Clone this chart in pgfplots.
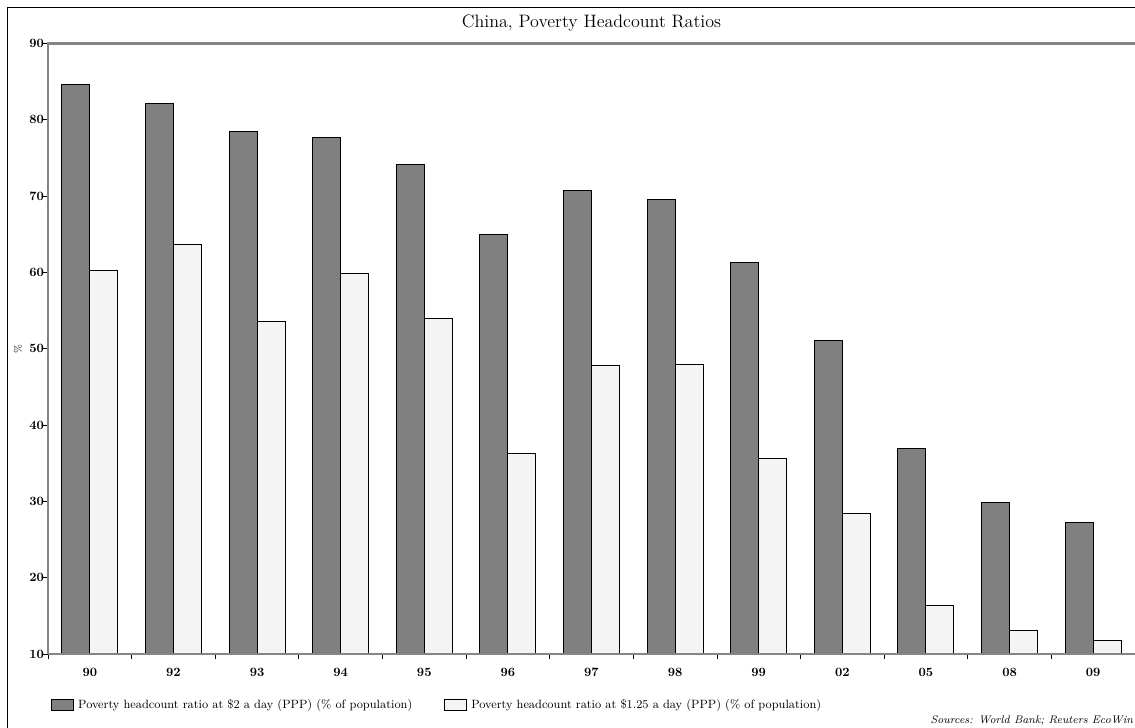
\documentclass[border=0pt]{standalone}
\usepackage{pgfplots}
\pgfplotsset{compat=1.18}
\definecolor{darkbar}{HTML}{808080}
\definecolor{lightbar}{HTML}{F4F4F4}
\definecolor{axisgray}{HTML}{858585}
\begin{document}
\begin{tikzpicture}
\path[use as bounding box] (0,0) rectangle (851.25pt,546pt);
\draw[line width=0.8pt] (5.5pt,-5pt) -- (5.5pt,540.4pt) -- (860pt,540.4pt);
\begin{axis}[
  at={(36pt,55.5pt)}, anchor=south west,
  scale only axis, width=819pt, height=457.875pt,
  xmin=-0.5, xmax=12.56, ymin=10, ymax=90,
  ybar=0pt, bar width=21pt,
  axis x line*=bottom, axis y line*=left,
  x axis line style={draw=axisgray, line width=1.2pt, -},
  y axis line style={draw=axisgray, line width=1.6pt, -},
  after end axis/.code={
    \draw[axisgray, line width=1.6pt] (rel axis cs:0,0) -- (rel axis cs:0,1) -- (rel axis cs:1,1);
    \draw[axisgray, line width=1.2pt] (rel axis cs:0,0) -- (rel axis cs:1,0);},
  xtick={0,...,12},
  xticklabels={90,92,93,94,95,96,97,98,99,02,05,08,09},
  minor xtick={-0.5,0.5,...,11.5},
  major x tick style={draw=none},
  ytick={10,20,...,90},
  tick align=outside,
  major tick length=3.5pt, minor tick length=3.5pt,
  every tick/.style={black, line width=0.6pt},
  /pgf/number format/assume math mode=true,
  ticklabel style={font=\bfseries\fontsize{9.5}{11}\selectfont},
  xticklabel style={yshift=-3.5pt},
  yticklabel style={xshift=4pt},
  ylabel={\%},
  ylabel style={at={(axis description cs:-0.0275,0.5)}, anchor=center, font=\fontsize{7.5}{9}\selectfont},
  legend style={at={(axis description cs:0.00275,-0.0835)}, anchor=west, draw=none, fill=none,
    inner sep=0pt, font=\fontsize{9}{11}\selectfont,
    nodes={inner sep=1pt},
    /tikz/every odd column/.append style={column sep=2pt},
    /tikz/every even column/.append style={column sep=23pt}},
  legend columns=2,
  legend cell align=left,
  legend image code/.code={\draw[#1] (0pt,-4pt) rectangle (16.5pt,4pt);},
]
\addplot[fill=darkbar, draw=black, line width=0.7pt] coordinates {
  (0,84.6) (1,82.1) (2,78.5) (3,77.7) (4,74.1) (5,65.0) (6,70.7)
  (7,69.5) (8,61.3) (9,51.1) (10,36.9) (11,29.8) (12,27.2)};
\addlegendentry{Poverty headcount ratio at \$2 a day (PPP) (\% of population)}
\addplot[fill=lightbar, draw=black, line width=0.7pt] coordinates {
  (0,60.2) (1,63.7) (2,53.6) (3,59.8) (4,54.0) (5,36.3) (6,47.8)
  (7,47.9) (8,35.6) (9,28.4) (10,16.3) (11,13.1) (12,11.8)};
\addlegendentry{Poverty headcount ratio at \$1.25 a day (PPP) (\% of population)}
\end{axis}
\node[anchor=base, font=\fontsize{13.5}{15}\selectfont] at (443.6pt,525pt) {China, Poverty Headcount Ratios};
\node[anchor=base east, inner sep=0pt, font=\itshape\fontsize{8.3}{10}\selectfont] at (850pt,3pt) {Sources: World Bank; Reuters EcoWin};
\end{tikzpicture}
\end{document}
